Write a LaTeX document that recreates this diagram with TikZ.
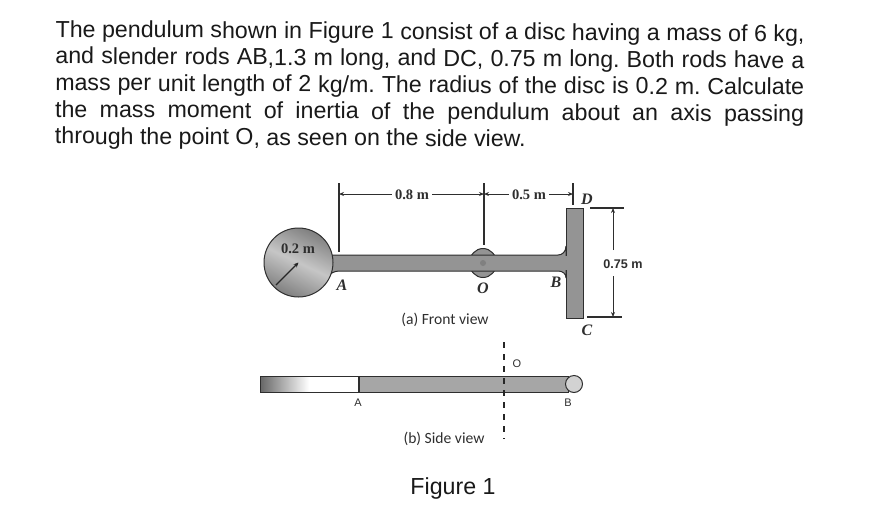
\documentclass[tikz,border=0pt]{standalone}
\usepackage{fontspec}
\setmainfont{Liberation Sans}
\newfontfamily\serifcap{Liberation Serif}
\newfontfamily\viewfont{Carlito}
\usetikzlibrary{arrows.meta, positioning, shapes.geometric}
\definecolor{inkdark}{gray}{0.18}
\definecolor{rodgray}{gray}{0.58}
\tikzset{
    extline/.style={line width=1.1pt, draw=inkdark},
    dimline/.style={line width=1pt, draw=inkdark, -{Stealth[length=5pt,width=4pt]}},
    dimlabel/.style={font=\serifcap\bfseries\fontsize{14.5}{16}\selectfont, text=inkdark, inner sep=3pt},
    ptlabel/.style={font=\serifcap\bfseries\itshape\fontsize{16}{18}\selectfont, text=inkdark, inner sep=1pt},
    sidelabel/.style={font=\fontsize{11}{13}\selectfont, text=inkdark, inner sep=1pt},
    viewlabel/.style={font=\viewfont\fontsize{15.6}{18}\selectfont, text=inkdark, inner sep=1pt},
    rodbody/.style={draw=inkdark, line width=1pt, fill=rodgray},
}
\begin{document}
\begin{tikzpicture}[x=1pt, y=-1pt]
    \useasboundingbox (0,0) rectangle (878,504);
    % problem text
    \node[anchor=north west, inner sep=0pt, text width=749pt, align=justify, rotate=-0.35, text=black!90,
        font=\fontsize{23.2}{26.7}\selectfont\frenchspacing] (problem) at (55.5,20)
        {The pendulum shown in Figure 1 consist of a disc having a mass of 6 kg,\linebreak
        and slender rods AB,1.3 m long, and DC, 0.75 m long. Both rods have a\linebreak
        mass per unit length of 2 kg/m. The radius of the disc is 0.2 m. Calculate\linebreak
        the mass moment of inertia of the pendulum about an axis passing\linebreak
        through the point O, as seen on the side view.};

    % front view: hub, rod, disc, T bar
    \node[ellipse, draw=inkdark, line width=1pt, fill=rodgray, inner sep=0pt,
        minimum width=27pt, minimum height=29pt] (hub) at (483,263) {};
    \fill[rodgray, draw=inkdark, line width=1pt]
        (328,255) .. controls (332,255) and (334,255) .. (340,255) -- (558,255)
        .. controls (562,255) and (566,252) .. (566,246) -- (566,278)
        .. controls (566,274) and (563,271) .. (558,271) -- (340,271)
        .. controls (334,271) and (331,273) .. (327,277) -- cycle;
    \node[circle, minimum size=69pt, inner sep=0pt, draw=inkdark, line width=1pt,
        left color=gray, right color=gray, middle color=gray!45, shading angle=-25] (disc) at (298.5,262.5) {};
    \node[rectangle, minimum width=17pt, minimum height=110pt, inner sep=0pt, rodbody] (tbar) at (574.5,263) {};
    \fill[rodgray] (560,256) rectangle (567,270);
    \node[circle, fill=black!50, minimum size=6pt, inner sep=0pt] (pin) at (483,263) {};

    % disc radius
    \coordinate (rim) at (276,285);
    \draw[line width=1.2pt, draw=black!85, -{Stealth[length=5pt,width=4.5pt]}] (rim) -- (disc.center);
    \node[dimlabel] (radlabel) at (298,249) {0.2 m};

    % horizontal dimensions
    \coordinate (Atop) at (339,183);
    \coordinate (Abot) at (339,252);
    \coordinate (Otop) at (484,183);
    \coordinate (Obot) at (484,245);
    \coordinate (Dtop) at (573,183);
    \coordinate (Dbot) at (573,205);
    \draw[extline] (Atop) -- (Abot);
    \draw[extline] (Otop) -- (Obot);
    \draw[extline] (Dtop) -- (Dbot);
    \coordinate (Adim) at (339,194);
    \coordinate (Odim) at (484,194);
    \coordinate (Ddim) at (573,194);
    \node[dimlabel] (dimAO) at (412,195) {0.8 m};
    \node[dimlabel] (dimOD) at (529,195) {0.5 m};
    \draw[dimline] (dimAO.west |- Adim) -- (Adim);
    \draw[dimline] (dimAO.east |- Odim) -- (Odim);
    \draw[dimline] (dimOD.west |- Odim) -- (Odim);
    \draw[dimline] (dimOD.east |- Ddim) -- (Ddim);

    % vertical dimension
    \coordinate (Dleft) at (590,208);
    \coordinate (Dright) at (624,208);
    \coordinate (Cleft) at (587,317);
    \coordinate (Cright) at (622,317);
    \draw[extline] (Dleft) -- (Dright);
    \draw[extline] (Cleft) -- (Cright);
    \node[font=\bfseries\fontsize{12.6}{14}\selectfont, text=inkdark, inner sep=1pt] (dimDC) at (623,264) {0.75 m};
    \coordinate (Ddimv) at (613,208);
    \coordinate (Cdimv) at (613,317);
    \coordinate (Dgap) at (613,250);
    \coordinate (Cgap) at (613,276);
    \draw[dimline] (Dgap) -- (Ddimv);
    \draw[dimline] (Cgap) -- (Cdimv);

    % point labels
    \node[ptlabel] (lblA) at (342,285) {A};
    \node[ptlabel] (lblO) at (483,288) {O};
    \node[ptlabel] (lblB) at (556,282) {B};
    \node[ptlabel] (lblC) at (587,330) {C};
    \node[ptlabel] (lblD) at (587,199) {D};
    \node[viewlabel] (front) at (445,320) {(a) Front view};

    % side view
    \node[rectangle, minimum width=98pt, minimum height=16pt, inner sep=0pt, draw=inkdark, line width=1pt,
        left color=black!60, right color=white, middle color=white] (sideleft) at (309,384) {};
    \node[rectangle, minimum width=209pt, minimum height=16pt, inner sep=0pt, rodbody, fill=black!35, anchor=west] (sideright) at (sideleft.east) {};
    \node[circle, minimum size=17pt, inner sep=0pt, draw=inkdark, line width=1pt, fill=gray!35] (sideend) at (574,384) {};
    \coordinate (axistop) at (504,342);
    \coordinate (axisbot) at (504,439);
    \draw[line width=2pt, draw=black!85, dash pattern=on 6pt off 6pt] (axistop) -- (axisbot);
    \node[sidelabel] (sideO) at (517,364) {O};
    \node[sidelabel] (sideA) at (358,403) {A};
    \node[sidelabel] (sideB) at (568,403) {B};
    \node[viewlabel] (side) at (444,439) {(b) Side view};

    \node[font=\fontsize{23.2}{26}\selectfont, text=black!90, inner sep=0pt] (caption) at (453,488) {Figure 1};
\end{tikzpicture}
\end{document}
